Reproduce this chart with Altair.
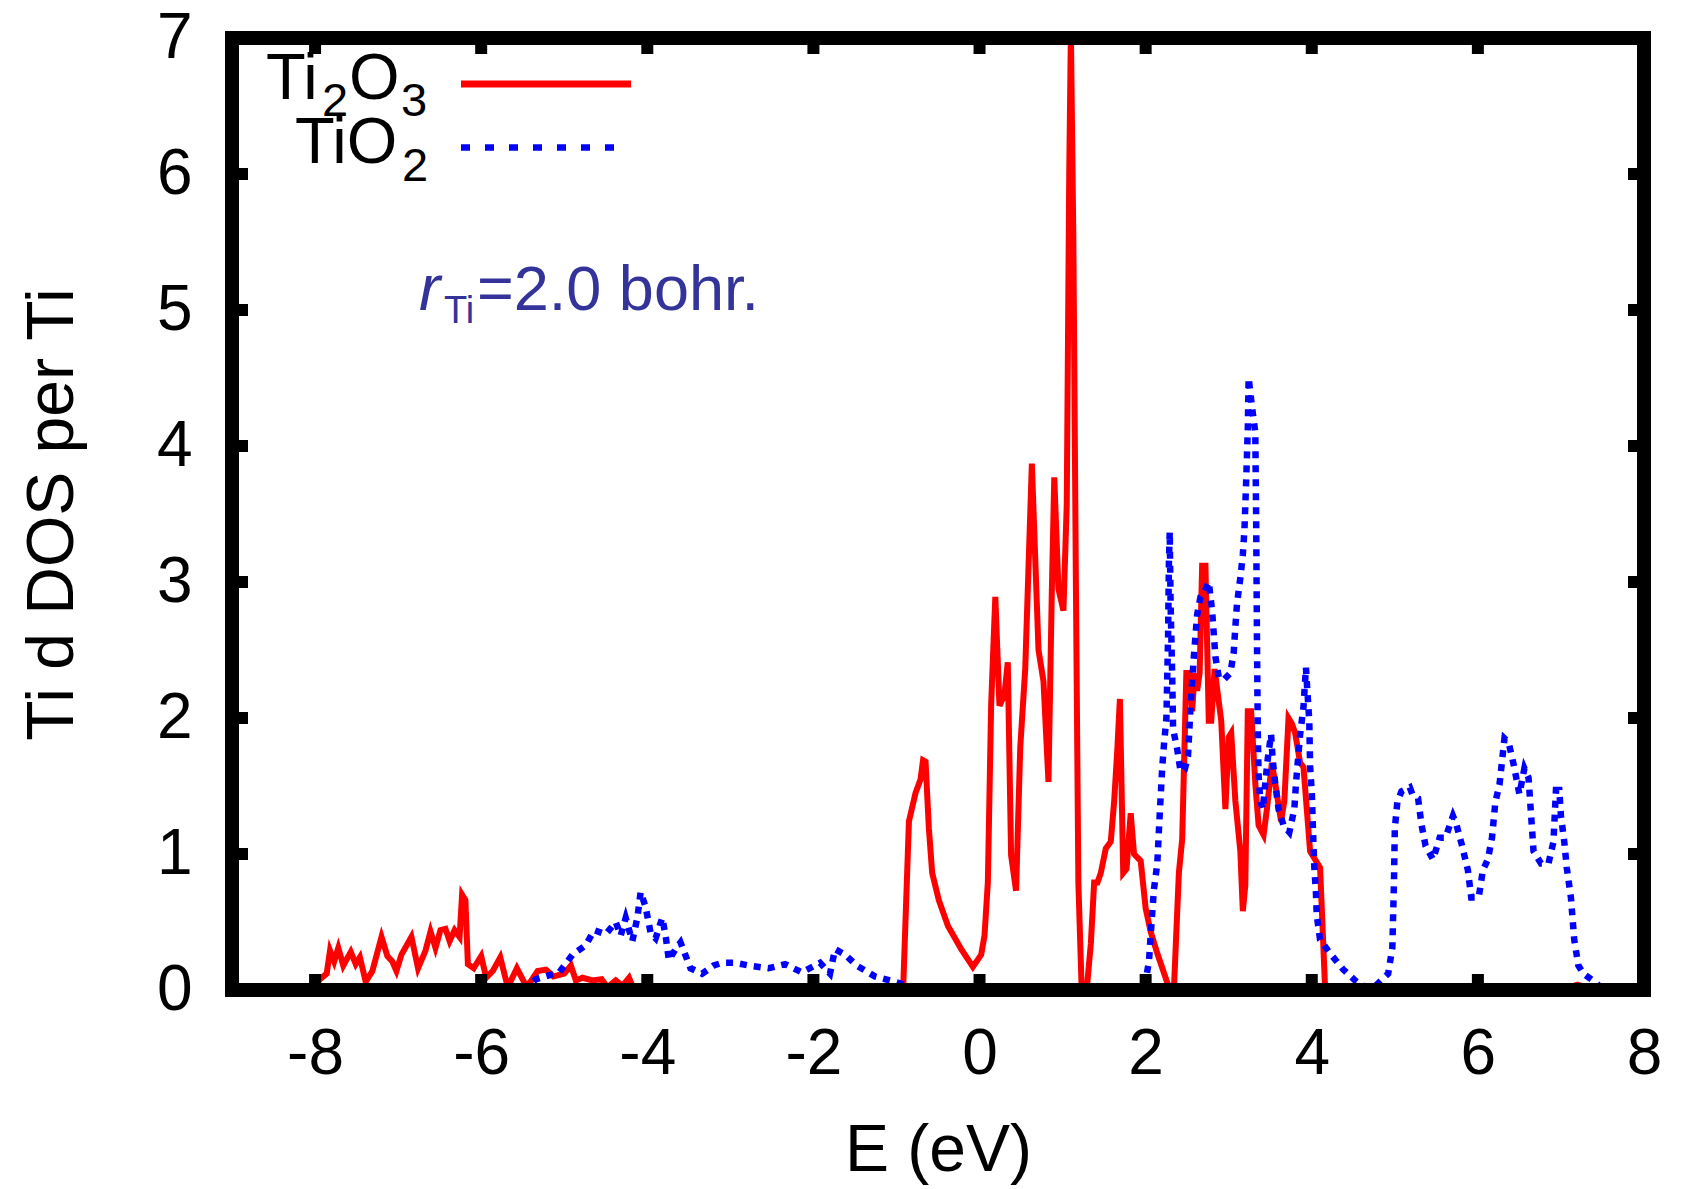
import altair as alt
import pandas as pd

# ---------------- data ----------------
E_TI2O3 = [-8.08, -8.03, -7.94, -7.86, -7.82, -7.77, -7.72, -7.66, -7.57, -7.51, -7.46, -7.39,
           -7.31, -7.20, -7.13, -7.07, -7.02, -6.96, -6.84, -6.76, -6.67, -6.61, -6.55, -6.49,
           -6.43, -6.38, -6.32, -6.26, -6.23, -6.19, -6.16, -6.09, -6.00, -5.94, -5.86, -5.77,
           -5.68, -5.57, -5.45, -5.32, -5.22, -5.13, -5.00, -4.92, -4.86, -4.78, -4.66, -4.55,
           -4.48, -4.38, -4.30, -4.22, -4.16, -0.92,
           -0.85, -0.77, -0.71, -0.68, -0.65, -0.61, -0.57, -0.49, -0.38, -0.22, -0.08, 0.02,
           0.06, 0.10, 0.14, 0.19, 0.24, 0.30, 0.34, 0.38, 0.44, 0.49, 0.55, 0.63, 0.71, 0.77,
           0.83, 0.87, 0.90, 0.95, 1.01, 1.05, 1.08, 1.10, 1.13, 1.16, 1.19, 1.23, 1.29, 1.34,
           1.38, 1.42, 1.46, 1.52, 1.58, 1.62, 1.66, 1.69, 1.73, 1.77, 1.82, 1.86, 1.94, 2.00,
           2.06, 2.14, 2.24, 2.29, 2.34, 2.40, 2.44, 2.49, 2.53, 2.56, 2.59, 2.62, 2.65, 2.68,
           2.72, 2.76, 2.79, 2.83, 2.87, 2.91, 2.96, 3.00, 3.03, 3.08, 3.14, 3.17, 3.20, 3.23,
           3.27, 3.32, 3.36, 3.42, 3.46, 3.52, 3.56, 3.63, 3.67, 3.72, 3.76, 3.80, 3.86, 3.90,
           3.94, 3.98, 4.04, 4.10, 4.16, 4.20, 6.90, 7.10, 7.20, 7.30, 7.40]
DOS_TI2O3 = [0.00, 0.00, 0.08, 0.12, 0.29, 0.21, 0.31, 0.18, 0.28, 0.19, 0.24, 0.06,
             0.14, 0.39, 0.25, 0.21, 0.14, 0.26, 0.39, 0.16, 0.29, 0.43, 0.31, 0.44,
             0.45, 0.36, 0.44, 0.39, 0.70, 0.66, 0.19, 0.16, 0.25, 0.09, 0.14, 0.24,
             0.02, 0.16, 0.02, 0.14, 0.15, 0.10, 0.12, 0.18, 0.07, 0.09, 0.07, 0.08,
             0.02, 0.07, 0.03, 0.09, 0.00, 0.00,
             1.24, 1.45, 1.55, 1.69, 1.68, 1.19, 0.86, 0.66, 0.47, 0.30, 0.17, 0.26,
             0.40, 0.79, 2.10, 2.89, 2.09, 2.17, 2.41, 0.99, 0.73, 1.78, 2.36, 3.87, 2.50, 2.27,
             1.53, 2.92, 3.77, 2.95, 2.79, 3.57, 6.00, 7.05, 5.50, 3.00, 0.79, 0.00, 0.00, 0.34,
             0.79, 0.79, 0.86, 1.04, 1.09, 1.38, 1.78, 2.14, 0.86, 0.89, 1.30, 1.00, 0.95, 0.60,
             0.43, 0.27, 0.09, 0.00, 0.00, 0.86, 1.11, 2.33, 2.33, 2.05, 2.33, 2.20, 2.33, 3.12,
             3.12, 1.98, 1.98, 2.36, 2.17, 1.98, 1.33, 1.86, 1.89, 1.39, 1.02, 0.58, 0.77, 2.05,
             2.05, 1.52, 1.21, 1.14, 1.33, 1.67, 1.52, 1.24, 1.39, 2.00, 1.96, 1.89, 1.67, 1.64,
             1.33, 1.02, 0.96, 0.90, 0.02, 0.00, 0.00, 0.02, 0.04, 0.02, 0.00]

E_TIO2 = [-5.50, -5.38, -5.34, -5.06, -4.90, -4.74, -4.64, -4.50, -4.38, -4.32, -4.26, -4.18,
          -4.12, -4.08, -4.02, -3.96, -3.90, -3.82, -3.78, -3.74, -3.66, -3.60, -3.48, -3.34,
          -3.20, -3.10, -2.94, -2.78, -2.54, -2.34, -2.14, -1.92, -1.80, -1.74, -1.62, -1.48,
          -1.26, -1.02, -0.80, -0.70, 1.98,
          2.04, 2.06, 2.10, 2.14, 2.17, 2.20, 2.22, 2.25, 2.27, 2.28, 2.29, 2.30, 2.32, 2.33,
          2.38, 2.42, 2.47, 2.51, 2.54, 2.58, 2.62, 2.66, 2.70, 2.76, 2.80, 2.84, 2.88, 2.94,
          3.02, 3.06, 3.08, 3.10, 3.14, 3.17, 3.19, 3.21, 3.23, 3.24, 3.28, 3.32, 3.33, 3.34,
          3.35, 3.36, 3.38, 3.41, 3.44, 3.47, 3.51, 3.53, 3.56, 3.60, 3.66, 3.73, 3.79, 3.81,
          3.86, 3.90, 3.93, 3.95, 3.97, 3.98, 4.00, 4.01, 4.02, 4.03, 4.05, 4.06, 4.10, 4.22,
          4.38, 4.54, 4.66, 4.75, 4.92, 4.97, 4.99, 5.00, 5.03, 5.08, 5.18, 5.21, 5.28, 5.32,
          5.37, 5.46, 5.54, 5.61, 5.70, 5.74, 5.81, 5.88, 5.92, 6.01, 6.06, 6.12, 6.17, 6.21,
          6.26, 6.32, 6.37, 6.43, 6.50, 6.56, 6.61, 6.63, 6.67, 6.76, 6.85, 6.91, 6.94, 6.98,
          7.00, 7.04, 7.07, 7.12, 7.16, 7.21, 7.27, 7.43, 7.50]
DOS_TIO2 = [0.00, 0.06, 0.08, 0.13, 0.26, 0.33, 0.44, 0.41, 0.50, 0.40, 0.53, 0.36,
            0.53, 0.72, 0.61, 0.42, 0.38, 0.53, 0.40, 0.22, 0.30, 0.35, 0.16, 0.12,
            0.18, 0.20, 0.20, 0.18, 0.16, 0.19, 0.13, 0.20, 0.12, 0.30, 0.26, 0.18,
            0.10, 0.06, 0.02, 0.00, 0.00,
            0.21, 0.40, 0.74, 0.93, 1.30, 1.64, 1.80, 2.00, 2.60, 3.14, 3.37, 2.85, 2.30, 1.92,
            1.77, 1.61, 1.62, 1.72, 2.08, 2.45, 2.76, 2.89, 2.92, 3.00, 2.79, 2.45, 2.30, 2.28,
            2.33, 2.48, 2.67, 2.84, 3.03, 3.20, 3.39, 3.74, 4.13, 4.50, 4.29, 4.10, 3.50, 2.60,
            1.90, 1.58, 1.39, 1.33, 1.52, 1.70, 1.88, 1.69, 1.52, 1.33, 1.21, 1.16, 1.33, 1.52,
            1.88, 2.08, 2.37, 2.17, 1.98, 1.64, 1.46, 1.27, 1.08, 0.91, 0.72, 0.55, 0.37, 0.27,
            0.15, 0.06, 0.02, 0.02, 0.12, 0.31, 0.81, 1.19, 1.38, 1.46, 1.49, 1.44, 1.41, 1.22,
            1.06, 0.96, 1.12, 1.12, 1.28, 1.22, 1.06, 0.88, 0.68, 0.68, 0.88, 0.96, 1.12, 1.38,
            1.51, 1.85, 1.82, 1.66, 1.44, 1.63, 1.56, 1.38, 1.02, 0.93, 0.93, 1.09, 1.47, 1.47,
            1.28, 1.09, 0.90, 0.68, 0.37, 0.18, 0.12, 0.05, 0.00]

X_TICKS = [-8, -6, -4, -2, 0, 2, 4, 6, 8]
Y_TICKS = [0, 1, 2, 3, 4, 5, 6, 7]
X_DOMAIN = [-9, 8]
Y_DOMAIN = [0, 7]

SERIES_NAMES = ["Ti", "2", "O", "3"]          # Ti2O3 legend pieces
SERIES2_NAMES = ["TiO", "2"]                  # TiO2 legend pieces
NOTE = ["r", "Ti", "=2.0 bohr."]

# ---------------- layout / style ----------------
W, H = 1412, 952
FONT = "Liberation Sans"
RED = "#ff0000"
BLUE = "#0000ff"
NOTE_COLOR = "#333399"

x_scale = alt.Scale(domain=X_DOMAIN, nice=False, zero=False)
y_scale = alt.Scale(domain=Y_DOMAIN, nice=False, zero=False)

x_axis = alt.Axis(values=X_TICKS, title="E (eV)", labelExpr="'' + datum.value",
                  ticks=False, tickSize=0, domain=False, grid=False,
                  labelFlush=False, labelOverlap=False, labelPadding=83,
                  labelBaseline="alphabetic", labelFontSize=64, labelFont=FONT,
                  labelColor="black", titleFont=FONT, titleFontSize=66,
                  titleFontWeight="normal", titleColor="black",
                  titleBaseline="alphabetic", titleY=180, titleX=W / 2)
y_axis = alt.Axis(values=Y_TICKS, title="Ti d DOS per Ti", labelExpr="'' + datum.value",
                  ticks=False, tickSize=0, domain=False, grid=False,
                  labelFlush=False, labelOverlap=False, labelPadding=40,
                  labelFontSize=64, labelFont=FONT, labelColor="black",
                  titleFont=FONT, titleFontSize=66, titleFontWeight="normal",
                  titleColor="black", titleAngle=270, titleBaseline="alphabetic",
                  titleX=-160, titleY=H / 2)

X = lambda: alt.X("E:Q", scale=x_scale, axis=x_axis)
Y = lambda: alt.Y("DOS:Q", scale=y_scale, axis=y_axis)

df_r = pd.DataFrame({"E": E_TI2O3, "DOS": DOS_TI2O3, "i": range(len(E_TI2O3))})
df_b = pd.DataFrame({"E": E_TIO2, "DOS": DOS_TIO2, "i": range(len(E_TIO2))})

red = alt.Chart(df_r).mark_line(color=RED, strokeWidth=6, clip=True).encode(
    x=X(), y=Y(), order="i:Q")
blue = alt.Chart(df_b).mark_line(color=BLUE, strokeWidth=6.5, strokeDash=[7, 7],
                                 strokeCap="butt", clip=True).encode(
    x=X(), y=Y(), order="i:Q")

xt = pd.DataFrame({"E": X_TICKS})
yt = pd.DataFrame({"DOS": Y_TICKS})
TL = 16
tick_bottom = alt.Chart(xt).mark_rule(color="black", strokeWidth=12).encode(
    x=X(), y=alt.value(H), y2=alt.value(H - TL))
tick_top = alt.Chart(xt).mark_rule(color="black", strokeWidth=12).encode(
    x=X(), y=alt.value(0), y2=alt.value(TL))
tick_left = alt.Chart(yt).mark_rule(color="black", strokeWidth=12).encode(
    y=Y(), x=alt.value(0), x2=alt.value(TL))
tick_right = alt.Chart(yt).mark_rule(color="black", strokeWidth=12).encode(
    y=Y(), x=alt.value(W), x2=alt.value(W - TL))

dummy = pd.DataFrame({"a": [0]})


def txt(s, x, y, size, color="black", style="normal"):
    return alt.Chart(dummy).mark_text(text=s, font=FONT, fontSize=size, align="left",
                                      baseline="alphabetic", color=color,
                                      fontStyle=style).encode(
        x=alt.value(x), y=alt.value(y))


legend = [
    txt(SERIES_NAMES[0], 34, 61, 65),
    txt(SERIES_NAMES[1], 90, 78, 47),
    txt(SERIES_NAMES[2], 117, 61, 65),
    txt(SERIES_NAMES[3], 169, 78, 47),
    txt(SERIES2_NAMES[0], 63, 125, 65),
    txt(SERIES2_NAMES[1], 170, 143, 47),
    alt.Chart(dummy).mark_rule(color=RED, strokeWidth=7).encode(
        x=alt.value(229), x2=alt.value(399), y=alt.value(46)),
    alt.Chart(dummy).mark_rule(color=BLUE, strokeWidth=6.5, strokeDash=[9, 15],
                               strokeCap="butt").encode(
        x=alt.value(229), x2=alt.value(390), y=alt.value(109.5)),
]
note = [
    txt(NOTE[0], 187, 272, 64, NOTE_COLOR, "italic"),
    txt(NOTE[1], 212, 285, 38, NOTE_COLOR),
    txt(NOTE[2], 245, 272, 63, NOTE_COLOR),
]

frame = alt.Chart(dummy).mark_rect(fillOpacity=0, stroke="black", strokeWidth=14).encode(
    x=alt.value(0), x2=alt.value(W), y=alt.value(0), y2=alt.value(H))

chart = alt.layer(
    red, blue, *legend, *note, tick_bottom, tick_top, tick_left, tick_right, frame
).properties(
    width=W, height=H,
    padding={"left": 232, "top": 38, "right": 37, "bottom": 199},
    autosize=alt.AutoSizeParams(type="none"),
    background="white",
).configure_view(strokeWidth=0)

chart.save("out.html", embed_options={"renderer": "svg", "actions": False})
